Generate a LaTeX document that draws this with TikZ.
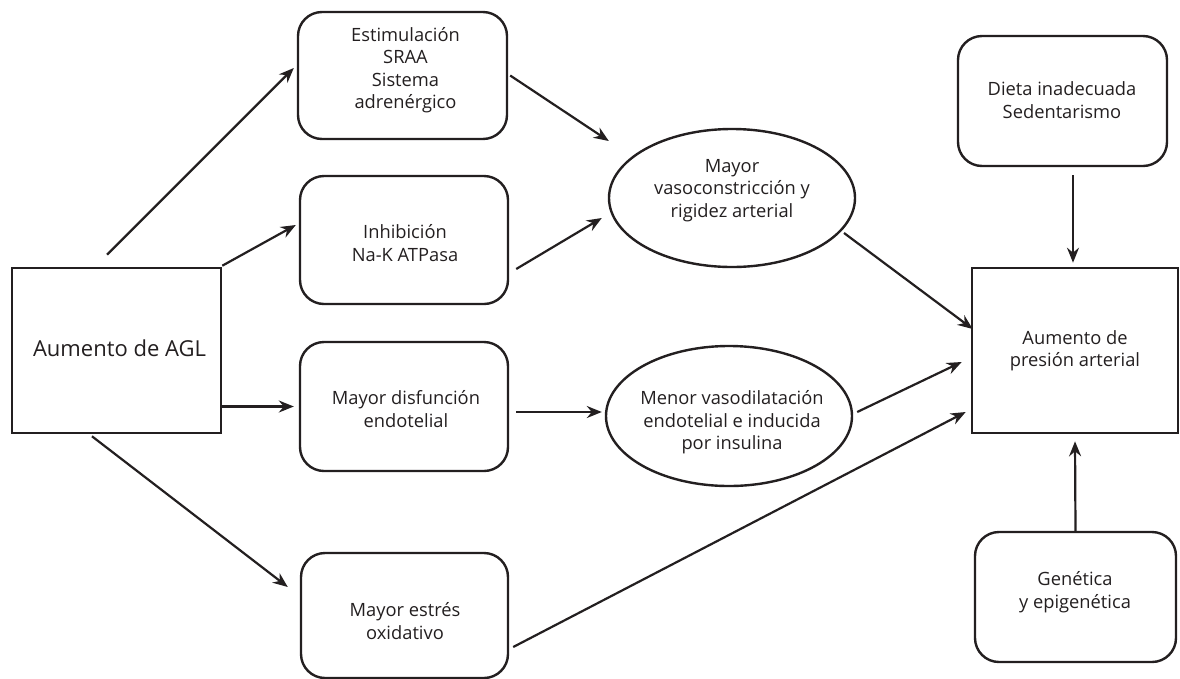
\documentclass[tikz,border=0pt]{standalone}
\usepackage{fontspec}
\setmainfont{Open Sans}
\usetikzlibrary{arrows.meta,shapes.geometric,calc}
\definecolor{ink}{HTML}{231F20}
\begin{document}
\begin{tikzpicture}[x=1pt,y=-1pt,
  every node/.style={text=ink},
  txt/.style={font=\fontsize{18.3}{22.5}\selectfont, align=center, inner sep=0pt},
  rbox/.style={draw=ink, line width=2.4pt, rounded corners=24pt, inner sep=0pt},
  sqbox/.style={draw=ink, line width=2.6pt, inner sep=0pt},
  ell/.style={draw=ink, line width=2.4pt, ellipse, inner sep=0pt},
  arr/.style={draw=ink, line width=2.2pt, -{Stealth[length=15pt,width=12pt,inset=5pt]}}]
\useasboundingbox[fill=white] (0,0) rectangle (1180,678);

% shapes
\node[sqbox, minimum width=209pt, minimum height=165pt] (agl) at (116.5,350.5) {};
\node[rbox, minimum width=209pt, minimum height=127pt] (estim) at (402.5,75.5) {};
\node[rbox, minimum width=208pt, minimum height=128pt] (inhib) at (404,240) {};
\node[rbox, minimum width=208pt, minimum height=129pt] (disf) at (404,406.5) {};
\node[rbox, minimum width=207pt, minimum height=125pt] (estres) at (404.5,615.5) {};
\node[ell, minimum width=246pt, minimum height=138pt] (ell1) at (732,198) {};
\node[ell, minimum width=246pt, minimum height=140pt] (ell2) at (729,416) {};
\node[rbox, minimum width=209pt, minimum height=130pt] (dieta) at (1062.5,101) {};
\node[sqbox, minimum width=206pt, minimum height=165pt] (pres) at (1075,350.5) {};
\node[rbox, minimum width=201pt, minimum height=130pt] (gen) at (1075.5,597) {};

% texts
\node[txt, font=\fontsize{22}{27}\selectfont] (aglt) at (119.5,348.7) {Aumento de AGL};
\node[txt] (estimt) at (405.5,70) {Estimulación\\SRAA\\Sistema\\adrenérgico};
\node[txt] (inhibt) at (405,243) {Inhibición\\Na-K ATPasa};
\node[txt] (disft) at (406,409) {Mayor disfunción\\endotelial};
\node[txt] (estrest) at (405,621) {Mayor estrés\\oxidativo};
\node[txt] (ell1t) at (732,190.5) {Mayor\\vasoconstricción y\\rigidez arterial};
\node[txt] (ell2t) at (732,422.5) {Menor vasodilatación\\endotelial e inducida\\por insulina};
\node[txt] (dietat) at (1062,100) {Dieta inadecuada\\Sedentarismo};
\node[txt] (prest) at (1075,350.5) {Aumento de\\presión arterial};
\node[txt] (gent) at (1075,592) {Genética\\y epigenética};

% connectors
\draw[arr] ($(agl.north)+(-9.5,-12)$) -- ($(estim.west)+(-3,-7.5)$);
\draw[arr] ($(agl.north east)+(0,-1)$) -- ($(inhib.west)+(-3,-15)$);
\draw[arr] ($(agl.east)+(0,56)$) -- ($(disf.west)+(-5,0)$);
\draw[arr] ($(agl.south)+(-24.5,2)$) -- ($(estres.west)+(-12,-28.5)$);
\draw[arr] ($(estim.east)+(2,0)$) -- ($(ell1.west)+(1,-57)$);
\draw[arr] ($(inhib.east)+(7,29)$) -- ($(ell1.west)+(-6,20)$);
\draw[arr] ($(disf.east)+(7,5.5)$) -- ($(ell2.west)+(-3,-4)$);
\draw[arr] ($(ell1.center)+(112,35)$) -- ($(pres.west)+(2,-21.5)$);
\draw[arr] ($(ell2.east)+(4,-4)$) -- ($(pres.west)+(-9,11.5)$);
\draw[arr] ($(estres.east)+(4,31.5)$) -- ($(pres.west)+(-5,61.5)$);
\draw[arr] ($(dieta.south)+(10.5,8)$) -- ($(pres.north)+(-2,-4)$);
\draw[arr] (gen.north) -- ($(pres.south)+(0,7)$);
\end{tikzpicture}
\end{document}
